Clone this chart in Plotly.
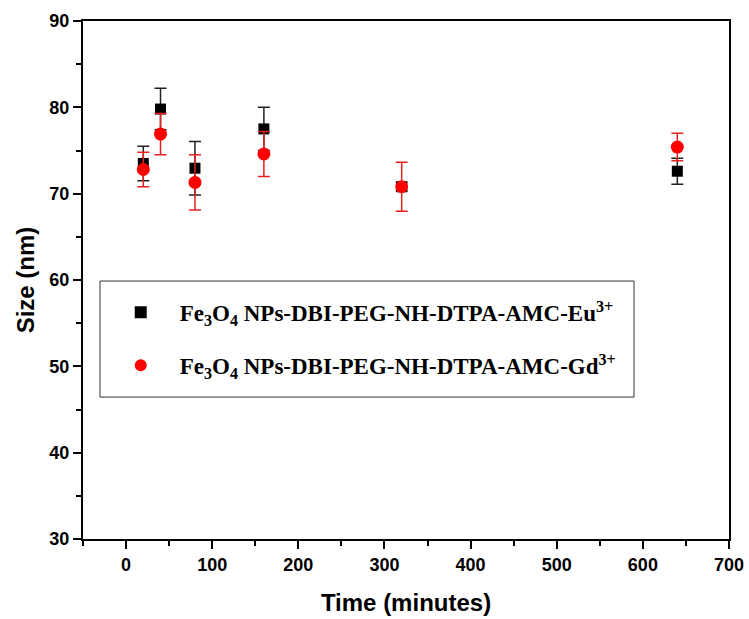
import plotly.graph_objects as go

# time points (minutes)
time_min = [20, 40, 80, 160, 320, 640]

# Eu3+ conjugate
eu_size = [73.5, 79.8, 72.95, 77.5, 70.8, 72.6]
eu_err = [2.0, 2.4, 3.1, 2.5, 0.5, 1.5]

# Gd3+ conjugate
gd_size = [72.8, 76.9, 71.3, 74.6, 70.8, 75.4]
gd_err = [2.0, 2.4, 3.2, 2.6, 2.85, 1.6]

eu_name = "Fe<sub>3</sub>O<sub>4</sub> NPs-DBI-PEG-NH-DTPA-AMC-Eu<sup>3+</sup>"
gd_name = "Fe<sub>3</sub>O<sub>4</sub> NPs-DBI-PEG-NH-DTPA-AMC-Gd<sup>3+</sup>"

fig = go.Figure()

fig.add_trace(go.Scatter(
    x=time_min, y=eu_size, mode="markers", name=eu_name,
    marker=dict(symbol="square", size=11, color="black"),
    error_y=dict(type="data", array=eu_err, color="#222222", thickness=1.5, width=6),
    legendgroup="eu",
))
fig.add_trace(go.Scatter(
    x=time_min, y=gd_size, mode="markers", name=gd_name,
    marker=dict(symbol="circle", size=13, color="red"),
    error_y=dict(type="data", array=gd_err, color="#e82020", thickness=1.5, width=6),
    legendgroup="gd",
))

axis_font = dict(family="Liberation Sans, Arial", size=18, color="black", weight="bold")
title_font = dict(family="Liberation Sans, Arial", size=24, color="black", weight="bold")

# legend frame drawn as a box (plotly legend has no padding option)
fig.add_shape(
    type="rect", xref="paper", yref="paper",
    x0=0.0263, x1=0.853, y0=0.274, y1=0.498,
    line=dict(color="#333333", width=1), fillcolor="white", layer="below",
)

fig.update_layout(
    width=749, height=619,
    margin=dict(l=83, r=20, t=21, b=80),
    paper_bgcolor="white",
    plot_bgcolor="white",
    showlegend=True,
    legend=dict(
        x=0.029, y=0.479, xanchor="left", yanchor="top",
        bgcolor="rgba(0,0,0,0)", borderwidth=0,
        font=dict(family="Liberation Serif, Times New Roman", size=23, color="black", weight="bold"),
        tracegroupgap=20,
        itemwidth=68,
        itemsizing="constant",
    ),
    xaxis=dict(
        range=[-50, 700], tickvals=[0, 100, 200, 300, 400, 500, 600, 700],
        ticks="outside", ticklen=8, tickwidth=2, tickcolor="black",
        minor=dict(dtick=50, tick0=0, ticks="outside", ticklen=5, tickwidth=2, tickcolor="black"),
        showline=True, linewidth=2, linecolor="black", mirror=True,
        showgrid=False, zeroline=False, automargin=False,
        tickfont=axis_font,
        title=dict(text="Time (minutes)", font=title_font, standoff=21),
    ),
    yaxis=dict(
        range=[30, 90], dtick=10,
        ticks="outside", ticklen=8, tickwidth=2, tickcolor="black",
        minor=dict(dtick=5, tick0=30, ticks="outside", ticklen=5, tickwidth=2, tickcolor="black"),
        showline=True, linewidth=2, linecolor="black", mirror=True,
        showgrid=False, zeroline=False, automargin=False,
        tickfont=axis_font,
        title=dict(text="Size (nm)", font=title_font, standoff=8),
    ),
)

# drop the default body margin so the figure sits at the page corner
fig.write_html("out.html", config={"displayModeBar": False},
               post_script="document.body.style.margin='0';")
